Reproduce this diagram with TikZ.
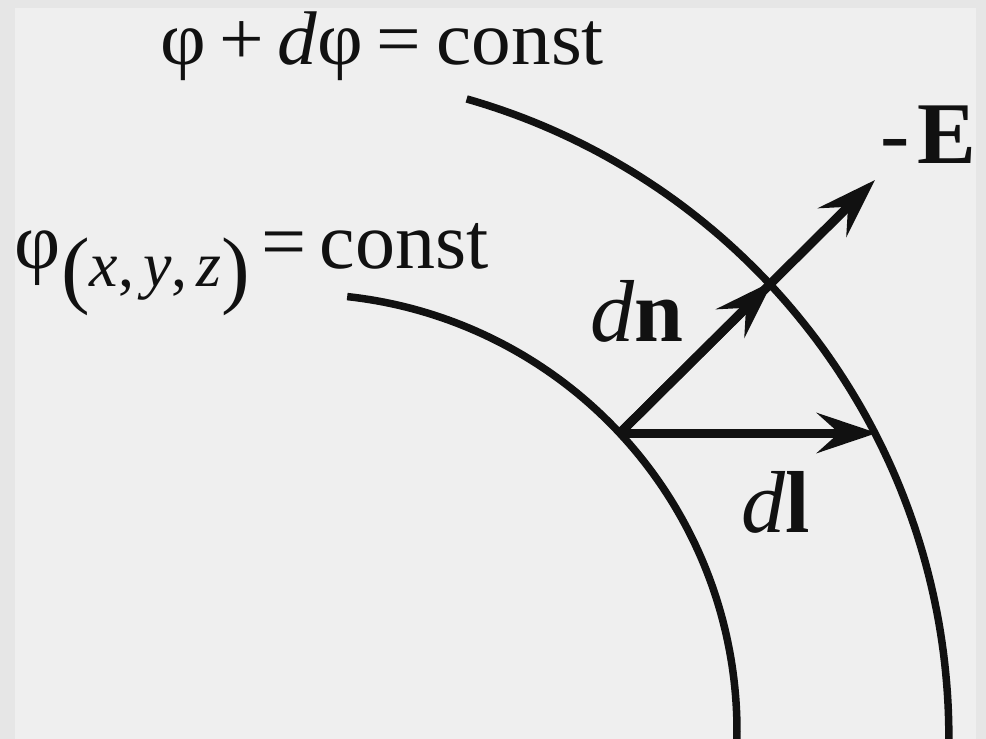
\documentclass[tikz,border=0pt]{standalone}
\usepackage{fontspec}
\setmainfont{Liberation Serif}
\usetikzlibrary{arrows.meta}
\definecolor{bgborder}{HTML}{E6E6E6}
\definecolor{bgfill}{HTML}{EFEFEF}
\definecolor{ink}{HTML}{111111}
\begin{document}
\begin{tikzpicture}[x=1pt,y=-1pt,
  curve/.style={draw=ink,line width=7.5pt},
  vec/.style={draw=ink,line width=9pt,-{Stealth[length=60pt,width=40pt,inset=22pt]}},
  lbl/.style={inner sep=0pt,outer sep=0pt,anchor=base west,text=ink},
  big/.style={font=\fontsize{80}{80}\selectfont},
  lab/.style={font=\fontsize{88}{88}\selectfont}]
\fill[bgborder] (0,0) rectangle (986,739);
\fill[bgfill] (15,8) rectangle (976,739);
\useasboundingbox (0,0) rectangle (986,739);
% equipotential surfaces
\draw[curve] plot[domain=-83.8:3,samples=90] ({300+437*cos(\x)},{731+437*sin(\x)});
\draw[curve] plot[domain=-74.1:3,samples=90] ({284.7+664.2*cos(\x)},{737.7+664.2*sin(\x)});
% vectors
\coordinate (P) at (620,433);
\coordinate (M) at (773,281);
\coordinate (Et) at (875,180);
\coordinate (Lt) at (877,433);
\draw[vec] (P) -- (Et);
\draw[vec] (P) -- (M);
\draw[vec] (P) -- (Lt);
% labels
\node[lbl,big] (t1) at (160,64) {\scalebox{0.99}[0.95]{φ\hspace{0.17em}+\hspace{0.17em}\textit{d}φ\hspace{0.17em}=\hspace{0.2em}const}};
\node[lbl,big] (t2) at (15,268) {φ\raisebox{-29pt}{\fontsize{86}{86}\selectfont(}{\fontsize{64}{64}\selectfont\raisebox{-18pt}{\textit{x},\hspace{0.14em}\textit{y},\hspace{0.14em}\textit{z}}}\raisebox{-29pt}{\fontsize{86}{86}\selectfont)}\hspace{0.14em}=\hspace{0.17em}const};
\node[lbl,lab] (mE) at (880,163) {-\hspace{8pt}\textbf{E}};
\node[lbl,lab] (dn) at (590,341) {\textit{d}\textbf{n}};
\node[lbl,lab] (dl) at (741,532) {\textit{d}\textbf{l}};
\end{tikzpicture}
\end{document}
